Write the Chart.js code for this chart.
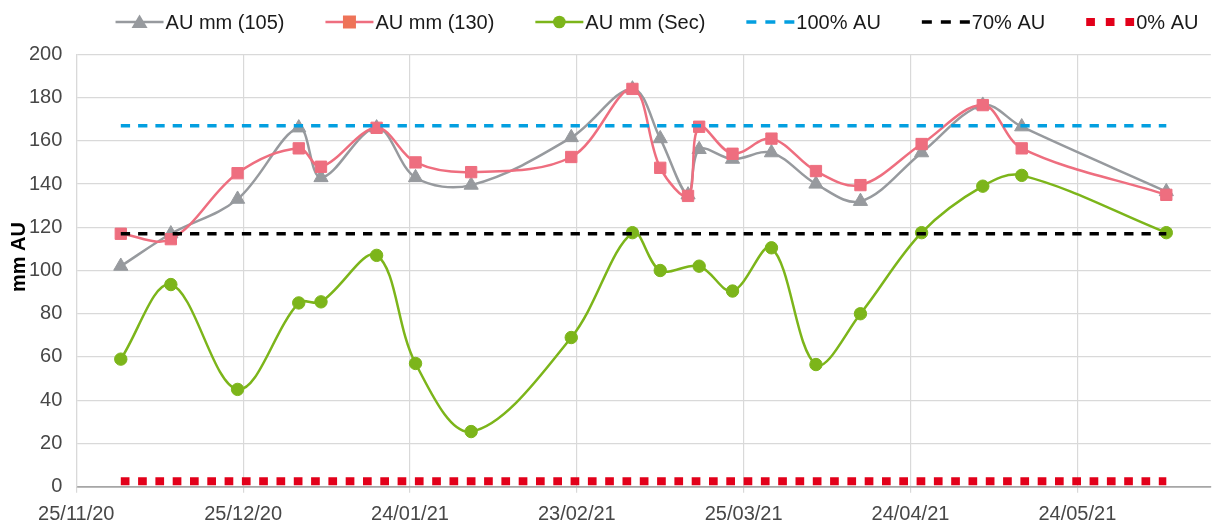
<!DOCTYPE html>
<html>
<head>
<meta charset="utf-8">
<script src="https://cdn.jsdelivr.net/npm/chart.js@4.4.1/dist/chart.umd.min.js"></script>
<style>
  html, body { margin: 0; padding: 0; background: #fff; }
  #wrap { width: 1220px; height: 524px; }
</style>
</head>
<body>
<div id="wrap"><canvas id="chart" width="1220" height="524"></canvas></div>
<script>
// measurement dates (dd/mm/yy)
const dates = [
  "03/12/20", "12/12/20", "24/12/20", "04/01/21", "08/01/21", "18/01/21",
  "25/01/21", "04/02/21", "22/02/21", "05/03/21", "10/03/21", "15/03/21",
  "17/03/21", "23/03/21", "30/03/21", "07/04/21", "15/04/21", "26/04/21",
  "07/05/21", "14/05/21", "09/06/21",
];
const au105 = [102, 117, 133, 166, 143, 166, 143, 139.5, 161.5, 184, 161, 135, 156, 151.5, 154.5, 140, 132, 154.5, 176.5, 166.5, 136.5];
const au130 = [117, 114.5, 145, 156.5, 148, 166, 150, 145.5, 152.5, 184, 147.5, 134.5, 166.5, 154, 161, 146, 139.5, 158.5, 176.5, 156.5, 135];
const auSec = [59, 93.5, 45, 85, 85.5, 107, 57, 25.5, 69, 117.5, 100, null, 102, 90.5, 110.5, 56.5, 80, 117.5, 139, 144, 117.5];
const au100pct = [167, 167];
const au70pct = [117, 117];
const au0pct = [2.5, 2.5];

const xTicks = ["25/11/20", "25/12/20", "24/01/21", "23/02/21", "25/03/21", "24/04/21", "24/05/21"];
const xStart = "25/11/20";
const xEnd = "17/06/21";

const GREY = "#979a9e";
const PINK = "#ee6e7f";
const GREEN = "#7cb51a";
const BLUE = "#039fe0";
const BLACK = "#000000";
const RED = "#e2001a";
const FONT = '"Liberation Sans", Arial, Helvetica, sans-serif';

function dayOf(s) {
  const [d, m, y] = s.split("/").map(Number);
  const [d0, m0, y0] = xStart.split("/").map(Number);
  return (Date.UTC(2000 + y, m - 1, d) - Date.UTC(2000 + y0, m0 - 1, d0)) / 864e5;
}

const xs = dates.map(dayOf);
const pts = (vals) => vals.map((v, i) => ({ x: xs[i], y: v }));
const refPts = (vals) => [
  { x: xs[0], y: vals[0] },
  { x: xs[xs.length - 1], y: vals[1] },
];

const legendItems = [
  { label: "AU mm (105)", color: GREY, kind: "triangle" },
  { label: "AU mm (130)", color: PINK, markColor: "#ee7358", kind: "rect" },
  { label: "AU mm (Sec)", color: GREEN, kind: "circle" },
  { label: "100% AU", color: BLUE, kind: "dash" },
  { label: "70% AU", color: BLACK, kind: "dash" },
  { label: "0% AU", color: RED, kind: "dots" },
];

// Excel-like legend + rotated axis title
const decorPlugin = {
  id: "decor",
  afterDraw(chart) {
    const ctx = chart.ctx;
    ctx.save();
    ctx.font = "20px " + FONT;
    ctx.textBaseline = "middle";
    const lineLen = 48, textGap = 2, itemGap = 41, y = 22;
    const widths = legendItems.map((it) => lineLen + textGap + ctx.measureText(it.label).width);
    const total = widths.reduce((a, b) => a + b, 0) + itemGap * (legendItems.length - 1);
    let x = 657 - total / 2;
    legendItems.forEach((it, i) => {
      ctx.save();
      if (it.kind === "dash") {
        ctx.strokeStyle = it.color;
        ctx.lineWidth = 3.5;
        ctx.setLineDash([10, 9]);
        ctx.beginPath();
        ctx.moveTo(x, y);
        ctx.lineTo(x + lineLen, y);
        ctx.stroke();
      } else if (it.kind === "dots") {
        ctx.fillStyle = it.color;
        for (let k = 0; k < 3; k++) ctx.fillRect(x + k * 19.6, y - 4, 8.7, 8);
      } else {
        ctx.strokeStyle = it.color;
        ctx.lineWidth = 2.5;
        ctx.beginPath();
        ctx.moveTo(x, y);
        ctx.lineTo(x + lineLen, y);
        ctx.stroke();
        const cx = x + lineLen / 2;
        ctx.fillStyle = it.markColor || it.color;
        ctx.beginPath();
        if (it.kind === "triangle") {
          ctx.moveTo(cx, y - 7.5);
          ctx.lineTo(cx + 8, y + 6);
          ctx.lineTo(cx - 8, y + 6);
          ctx.closePath();
        } else if (it.kind === "rect") {
          ctx.rect(cx - 6.5, y - 6.5, 13, 13);
        } else {
          ctx.arc(cx, y, 6.3, 0, Math.PI * 2);
        }
        ctx.fill();
      }
      ctx.restore();
      ctx.fillStyle = "#1a1a1a";
      ctx.textAlign = "left";
      ctx.fillText(it.label, x + lineLen + textGap, y + 1);
      x += widths[i] + itemGap;
    });

    ctx.translate(19, 257);
    ctx.rotate(-Math.PI / 2);
    ctx.font = "bold 20px " + FONT;
    ctx.textAlign = "center";
    ctx.fillStyle = "#000";
    ctx.fillText("mm AU", 0, 0);
    ctx.restore();
  },
};

const dataLine = (label, vals, color, style, radius, order) => ({
  label,
  data: pts(vals),
  borderColor: color,
  backgroundColor: color,
  borderWidth: 2.5,
  pointStyle: style,
  pointRadius: radius,
  pointBorderWidth: 1,
  pointBackgroundColor: color,
  pointBorderColor: color,
  tension: 0.35,
  spanGaps: true,
  order,
});

const refLine = (label, vals, color, width, dash, order) => ({
  label,
  data: refPts(vals),
  borderColor: color,
  borderWidth: width,
  borderDash: dash,
  borderCapStyle: "butt",
  pointRadius: 0,
  tension: 0,
  order,
});

new Chart(document.getElementById("chart"), {
  type: "line",
  data: {
    datasets: [
      dataLine("AU mm (105)", au105, GREY, "triangle", 8.2, 6),
      dataLine("AU mm (130)", au130, PINK, "rect", 8, 5),
      dataLine("AU mm (Sec)", auSec, GREEN, "circle", 6.2, 4),
      refLine("100% AU", au100pct, BLUE, 3.5, [9.3, 8], 3),
      refLine("70% AU", au70pct, BLACK, 3.5, [9.3, 8], 2),
      refLine("0% AU", au0pct, RED, 8, [8.7, 8.6], 1),
    ],
  },
  options: {
    responsive: false,
    animation: false,
    devicePixelRatio: 1,
    layout: { padding: { top: 54.3, right: 7, bottom: 0, left: 0 } },
    plugins: {
      legend: { display: false },
      tooltip: { enabled: false },
    },
    scales: {
      x: {
        type: "linear",
        min: dayOf(xStart),
        max: dayOf(xEnd),
        afterBuildTicks: (s) => {
          s.ticks = xTicks.map((t) => ({ value: dayOf(t) }));
        },
        afterFit: (s) => {
          s.height = 37.3;
        },
        ticks: {
          autoSkip: false,
          maxRotation: 0,
          padding: 10,
          color: "#474747",
          font: { family: FONT, size: 20 },
          callback: (v, i) => xTicks[i],
        },
        grid: { color: "#d9d9d9", lineWidth: 1.2, tickLength: 6, tickColor: "#d9d9d9" },
        border: { color: "#a6a6a6", width: 1.5 },
      },
      y: {
        min: 0,
        max: 200,
        afterFit: (s) => {
          s.width = 76.3;
        },
        ticks: {
          stepSize: 20,
          padding: 14,
          color: "#474747",
          font: { family: FONT, size: 20 },
        },
        grid: {
          drawTicks: false,
          color: (c) => (c.tick && c.tick.value === 0 ? "#a6a6a6" : "#d9d9d9"),
          lineWidth: (c) => (c.tick && c.tick.value === 0 ? 1.5 : 1.2),
        },
        border: { color: "#d9d9d9", width: 1.2 },
      },
    },
  },
  plugins: [decorPlugin],
});
</script>
</body>
</html>
